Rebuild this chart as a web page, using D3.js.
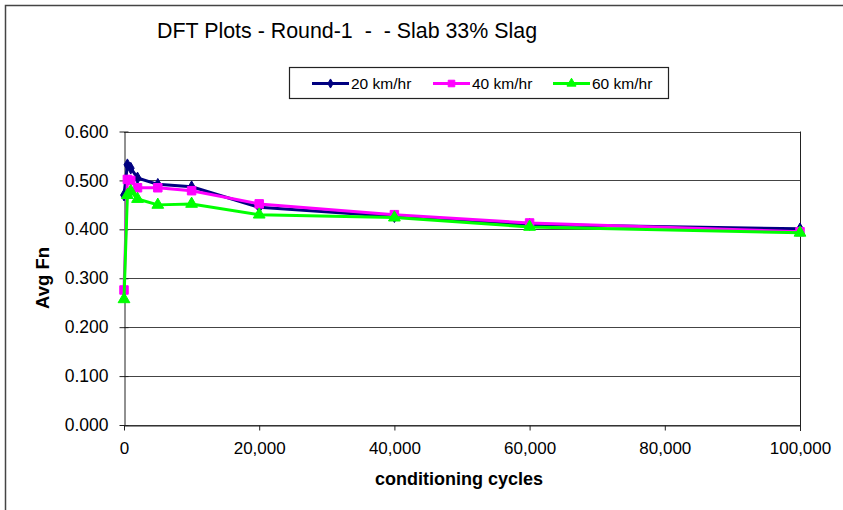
<!DOCTYPE html>
<html>
<head>
<meta charset="utf-8">
<script src="https://cdn.jsdelivr.net/npm/d3@7"></script>
<style>
  html, body { margin: 0; padding: 0; background: #fff; }
  svg { display: block; font-family: "Liberation Sans", Arial, sans-serif; }
</style>
</head>
<body>
<svg id="chart" width="843" height="510"></svg>
<script>
// Conditioning cycles at which the DFT was measured
const cycles = [0, 500, 1000, 2000, 5000, 10000, 20000, 40000, 60000, 100000];

// Average friction number per speed
const fn20 = [0.470, 0.532, 0.525, 0.505, 0.492, 0.487, 0.445, 0.426, 0.410, 0.401];
const fn40 = [0.276, 0.502, 0.500, 0.485, 0.485, 0.479, 0.452, 0.430, 0.413, 0.395];
const fn60 = [0.257, 0.470, 0.478, 0.462, 0.450, 0.452, 0.430, 0.424, 0.405, 0.393];

const seriesNames = ["20 km/hr", "40 km/hr", "60 km/hr"];
const xTicks = [0, 20000, 40000, 60000, 80000, 100000];
const yTicks = [0, 0.1, 0.2, 0.3, 0.4, 0.5, 0.6];

const titleText = "DFT Plots - Round-1  -  - Slab 33% Slag";
const xTitle = "conditioning cycles";
const yTitle = "Avg Fn";

const series = [
  { name: seriesNames[0], values: fn20, color: "#000080", symbol: d3.symbolDiamond, size: 40 },
  { name: seriesNames[1], values: fn40, color: "#FF00FF", symbol: d3.symbolSquare, size: 72 },
  { name: seriesNames[2], values: fn60, color: "#00FF00", symbol: d3.symbolTriangle, size: 60 }
];

const svg = d3.select("#chart");

// outer chart frame (left and top edges)
svg.append("path")
  .attr("d", "M5.5,510 L5.5,5.5 L843,5.5")
  .attr("fill", "none").attr("stroke", "#444").attr("stroke-width", 1.5);

const plot = { left: 124, right: 800, top: 131.5, bottom: 425 };

const x = d3.scaleLinear().domain([0, 100000]).range([plot.left, plot.right]);
const y = d3.scaleLinear().domain([0, 0.6]).range([plot.bottom, plot.top]);

// horizontal gridlines
svg.append("g")
  .selectAll("line")
  .data(yTicks)
  .join("line")
  .attr("x1", plot.left).attr("x2", plot.right)
  .attr("y1", d => Math.round(y(d)) + 0.5).attr("y2", d => Math.round(y(d)) + 0.5)
  .attr("stroke", "#444").attr("stroke-width", 1);

// right edge of plot area
svg.append("line")
  .attr("x1", plot.right + 0.5).attr("x2", plot.right + 0.5)
  .attr("y1", plot.top).attr("y2", plot.bottom + 6)
  .attr("stroke", "#222").attr("stroke-width", 1);

// axes
const fmtY = d3.format(".3f");
const fmtX = d3.format(",");

const yAxis = svg.append("g")
  .attr("transform", `translate(${plot.left + 0.5},0)`)
  .call(d3.axisLeft(y).tickValues(yTicks).tickFormat(fmtY).tickSizeInner(5).tickSizeOuter(0).tickPadding(11));
yAxis.select(".domain").attr("stroke", "#222");
yAxis.selectAll(".tick line").attr("stroke", "#222").attr("x2", 4).attr("x1", -5);
yAxis.selectAll("text").attr("font-size", 17.5).attr("fill", "#000")
  .attr("font-family", "Liberation Sans, Arial, sans-serif");

const xAxis = svg.append("g")
  .attr("transform", `translate(0,${plot.bottom + 0.5})`)
  .call(d3.axisBottom(x).tickValues(xTicks).tickFormat(fmtX).tickSizeInner(5).tickSizeOuter(0).tickPadding(11));
xAxis.select(".domain").attr("stroke", "#222");
xAxis.selectAll(".tick line").attr("stroke", "#222");
xAxis.selectAll("text").attr("font-size", 17).attr("fill", "#000")
  .attr("font-family", "Liberation Sans, Arial, sans-serif");

// series lines and markers
const line = d3.line()
  .x((d, i) => x(cycles[i]))
  .y(d => y(d));

series.forEach(s => {
  const g = svg.append("g");
  g.append("path")
    .datum(s.values)
    .attr("d", line)
    .attr("fill", "none")
    .attr("stroke", s.color)
    .attr("stroke-width", 3)
    .attr("stroke-linejoin", "round");
  g.selectAll("path.marker")
    .data(s.values)
    .join("path")
    .attr("class", "marker")
    .attr("d", d3.symbol().type(s.symbol).size(s.size))
    .attr("transform", (d, i) => `translate(${x(cycles[i])},${y(d)})`)
    .attr("fill", s.color)
    .attr("stroke", s.color)
    .attr("stroke-width", 1);
});

// title
svg.append("text")
  .attr("x", 157).attr("y", 38)
  .attr("font-size", 21.4).attr("fill", "#000")
  .style("white-space", "pre")
  .attr("xml:space", "preserve")
  .text(titleText);

// axis titles
svg.append("text")
  .attr("x", 459).attr("y", 485)
  .attr("text-anchor", "middle")
  .attr("font-size", 18).attr("font-weight", "bold").attr("fill", "#000")
  .text(xTitle);

svg.append("text")
  .attr("transform", "translate(49,278) rotate(-90)")
  .attr("text-anchor", "middle")
  .attr("font-size", 18.5).attr("font-weight", "bold").attr("fill", "#000")
  .text(yTitle);

// legend
const legend = svg.append("g");
legend.append("rect")
  .attr("x", 289.5).attr("y", 67.5).attr("width", 379).attr("height", 31)
  .attr("fill", "#fff").attr("stroke", "#222").attr("stroke-width", 1.2);

const legendX = [312, 433, 553];
series.forEach((s, i) => {
  const lx = legendX[i];
  legend.append("line")
    .attr("x1", lx).attr("x2", lx + 37)
    .attr("y1", 83.5).attr("y2", 83.5)
    .attr("stroke", s.color).attr("stroke-width", 3);
  legend.append("path")
    .attr("d", d3.symbol().type(s.symbol).size(s.size * 0.6))
    .attr("transform", `translate(${lx + 18.5},83.5)`)
    .attr("fill", s.color).attr("stroke", s.color);
  legend.append("text")
    .attr("x", lx + 39).attr("y", 89)
    .attr("font-size", 15.5).attr("fill", "#000")
    .text(s.name);
});
</script>
</body>
</html>
